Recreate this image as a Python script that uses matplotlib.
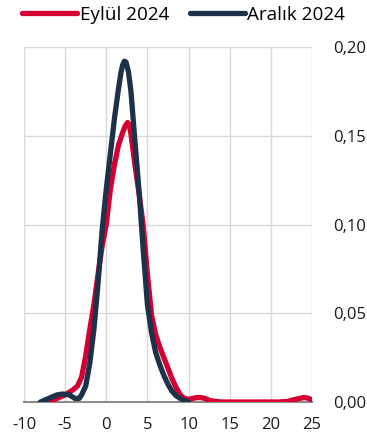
import matplotlib
matplotlib.use('Agg')
import matplotlib.pyplot as plt
from matplotlib.ticker import FuncFormatter, MultipleLocator

plt.rcParams['font.family'] = ['Open Sans', 'DejaVu Sans']
plt.rcParams['axes.unicode_minus'] = False

# Eylül 2024 (red)
x_eylul = [-7.0, -6.0, -5.0, -4.0, -3.5, -3.0, -2.5, -2.0, -1.5, -1.0, -0.5,
           0.0, 0.5, 1.0, 1.5, 2.0, 2.3, 2.6, 2.8, 3.0, 3.5, 4.0, 4.5, 5.0,
           5.5, 6.0, 6.5, 7.0, 7.5, 8.0, 8.5, 9.0, 9.5, 10.0, 10.5, 11.0,
           11.5, 12.0, 12.5, 13.0, 14.0, 21.0, 22.0, 23.0, 24.0, 24.5, 25.0]
y_eylul = [0.000, 0.002, 0.004, 0.007, 0.009, 0.014, 0.026, 0.041, 0.055,
           0.072, 0.088, 0.100, 0.120, 0.134, 0.145, 0.152, 0.1555, 0.1575,
           0.156, 0.151, 0.133, 0.117, 0.099, 0.072, 0.049, 0.038, 0.031,
           0.025, 0.019, 0.013, 0.008, 0.004, 0.002, 0.0015, 0.002, 0.0025,
           0.0025, 0.002, 0.001, 0.0005, 0.000, 0.000, 0.0003, 0.0015, 0.0025,
           0.0022, 0.0012]

# Aralık 2024 (navy)
x_aralik = [-8.0, -7.0, -6.0, -5.3, -4.5, -3.8, -3.3, -3.0, -2.5, -2.0, -1.5,
            -1.0, -0.5, 0.0, 0.5, 1.0, 1.5, 1.8, 2.0, 2.2, 2.4, 2.7, 3.0, 3.5,
            4.0, 4.5, 5.0, 5.5, 6.0, 6.5, 7.0, 7.5, 8.0, 8.5, 9.0, 9.5, 10.0]
y_aralik = [0.000, 0.002, 0.004, 0.0045, 0.004, 0.002, 0.002, 0.004, 0.009,
            0.022, 0.041, 0.067, 0.097, 0.120, 0.140, 0.160, 0.177, 0.186,
            0.190, 0.192, 0.1915, 0.186, 0.175, 0.146, 0.118, 0.085, 0.055,
            0.039, 0.028, 0.021, 0.015, 0.010, 0.006, 0.0035, 0.002, 0.0008,
            0.000]

red = '#d50032'
navy = '#1d3149'

fig = plt.figure(figsize=(3.67, 4.44), dpi=100)
ax = fig.add_axes([0.0654, 0.0946, 0.7846, 0.7994])

ax.plot(x_eylul, y_eylul, color=red, lw=3.8, solid_capstyle='round',
        solid_joinstyle='round', label='Eylül 2024', zorder=3)
ax.plot(x_aralik, y_aralik, color=navy, lw=3.8, solid_capstyle='round',
        solid_joinstyle='round', label='Aralık 2024', zorder=4)

ax.set_xlim(-10, 25)
ax.set_ylim(0, 0.20)
ax.xaxis.set_major_locator(MultipleLocator(5))
ax.yaxis.set_major_locator(MultipleLocator(0.05))
ax.yaxis.set_major_formatter(FuncFormatter(lambda v, p: f'{v:.2f}'.replace('.', ',')))
ax.yaxis.tick_right()

ax.grid(True, color='#d9d9d9', lw=1)
ax.set_axisbelow(True)
for s in ['top', 'left', 'right']:
    ax.spines[s].set_visible(False)
ax.spines['bottom'].set_color('#8c8c8c')
ax.spines['bottom'].set_linewidth(1.5)
ax.spines['bottom'].set_zorder(2)

ax.tick_params(axis='both', length=0, labelsize=12, colors='#1a1a1a')
ax.tick_params(axis='y', pad=15)
ax.tick_params(axis='x', pad=11)

fig.legend(loc='center left', bbox_to_anchor=(0.06, 0.966), ncol=2,
           frameon=False, fontsize=13.6, handlelength=2.9, handletextpad=0.15,
           columnspacing=1.1, borderpad=0, borderaxespad=0)

fig.savefig('out.png', dpi=100)
